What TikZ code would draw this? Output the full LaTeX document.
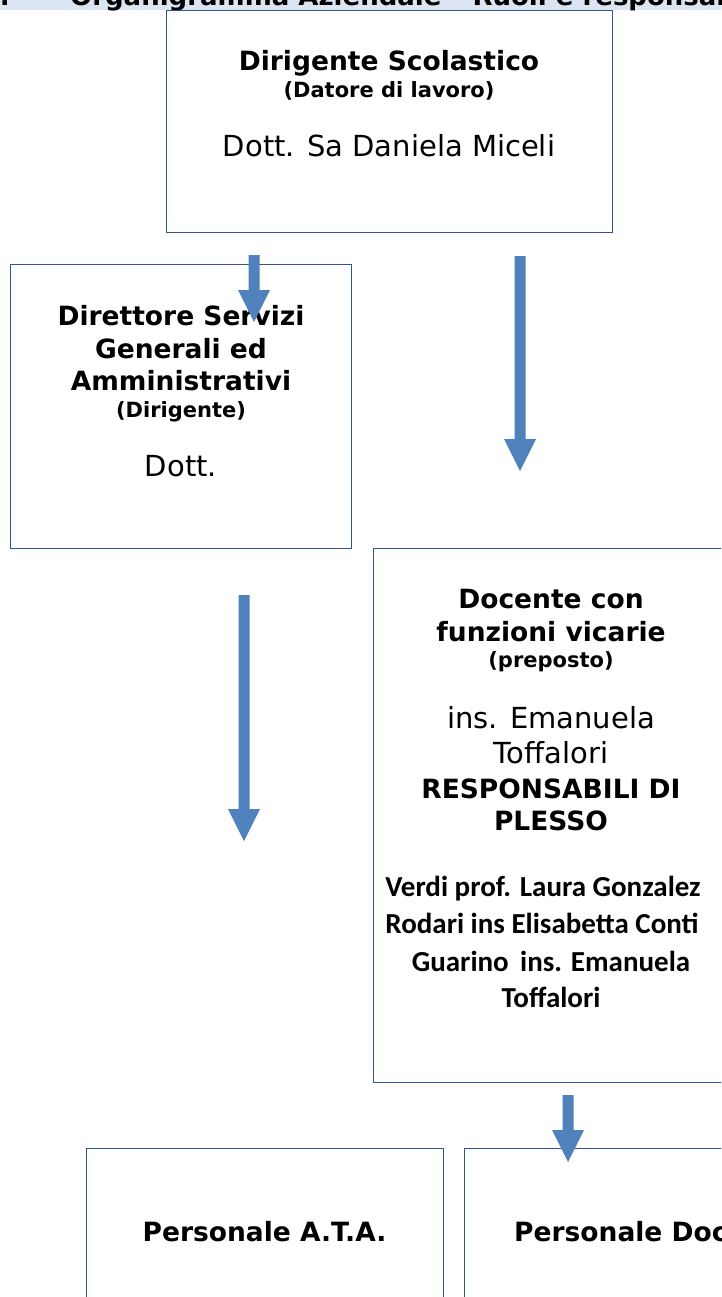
\documentclass[tikz,border=0pt]{standalone}
\usepackage{fontspec}
\setmainfont{DejaVu Sans}
\newfontfamily\calib{Carlito}
\definecolor{boxblue}{HTML}{2F5597}
\definecolor{arrowblue}{HTML}{4F81BD}
\definecolor{bandblue}{HTML}{DBE5F1}
\tikzset{
  orgbox/.style={draw=boxblue, line width=1.3pt, fill=white, inner sep=0pt, anchor=north west},
  blkarrow/.style={fill=arrowblue, draw=none},
  ttl/.style={font=\fontsize{26.5}{30}\selectfont\bfseries, anchor=base, inner sep=0pt},
  sub/.style={font=\fontsize{21}{24}\selectfont\bfseries, anchor=base, inner sep=0pt},
  nam/.style={font=\fontsize{29}{33}\selectfont, anchor=base, inner sep=0pt},
  cal/.style={font=\calib\fontsize{29}{33}\selectfont\bfseries, anchor=base, inner sep=0pt},
  tah/.style={font=\fontsize{26.5}{30}\selectfont\bfseries, anchor=base, inner sep=0pt},
  hdr/.style={font=\fontsize{26}{30}\selectfont\bfseries, inner sep=0pt}
}
\newcommand\blockarr[3]{%
  \fill[blkarrow] (#1-5.5,#2) -- (#1+5.5,#2) -- (#1+5.5,#3-32) -- (#1+16,#3-32)
    -- (#1,#3) -- (#1-16,#3-32) -- (#1-5.5,#3-32) -- cycle;}
\begin{document}
\begin{tikzpicture}[x=1pt,y=-1pt]
\useasboundingbox (0,0) rectangle (721,1297);
\clip (0,0) rectangle (721,1297);
\fill[white] (0,0) rectangle (721,1297);
% header band
\fill[bandblue] (0,0) rectangle (721,10);
\node[hdr, anchor=base east] (hnum) at (10,5.5) {1.};
\node[hdr, anchor=base west] (htitle) at (70,5.5) {Organigramma Aziendale – Ruoli e responsabilità};
% boxes
\node[orgbox, minimum width=446pt, minimum height=222pt] (ds) at (166,10) {};
\node[orgbox, minimum width=341pt, minimum height=284pt] (dsga) at (10,264) {};
\node[orgbox, minimum width=357pt, minimum height=534pt] (vic) at (373,548) {};
\node[orgbox, minimum width=357pt, minimum height=200pt] (ata) at (86,1148) {};
\node[orgbox, minimum width=357pt, minimum height=200pt] (doc) at (464,1148) {};
% box 1 text
\node[ttl] (ds1) at (389,71) {Dirigente Scolastico};
\node[sub] (ds2) at (389,98) {(Datore di lavoro)};
\node[nam] (ds3) at (389,157) {Dott. Sa Daniela Miceli};
% box 2 text
\node[ttl] (dg1) at (181,325) {Direttore Servizi};
\node[ttl] (dg2) at (181,358) {Generali ed};
\node[ttl] (dg3) at (181,390) {Amministrativi};
\node[sub] (dg4) at (181,417) {(Dirigente)};
\node[nam] (dg5) at (181,476) {Dott.};
% box 3 text
\node[ttl] (v1) at (551,608) {Docente con};
\node[ttl] (v2) at (551,641) {funzioni vicarie};
\node[sub] (v3) at (551,667) {(preposto)};
\node[nam] (v4) at (551,728) {ins. Emanuela};
\node[nam] (v5) at (551,763) {Toffalori};
\node[ttl] (v6) at (551,798) {RESPONSABILI DI};
\node[ttl] (v7) at (551,830) {PLESSO};
\node[cal] (v8) at (543,896) {Verdi prof. Laura Gonzalez};
\node[cal] (v9) at (542,933) {Rodari ins Elisabetta Conti};
\node[cal] (v10) at (551,971) {Guarino\, ins. Emanuela};
\node[cal] (v11) at (551,1007) {Toffalori};
% bottom boxes text
\node[tah] (a1) at (264.5,1241) {Personale A.T.A.};
\node[tah, anchor=base west] (d1) at (514,1241) {Personale Docente};
% arrows
\blockarr{254}{255}{322}
\blockarr{520}{256}{471}
\blockarr{244}{595}{841}
\blockarr{568}{1095}{1162}
\end{tikzpicture}
\end{document}
